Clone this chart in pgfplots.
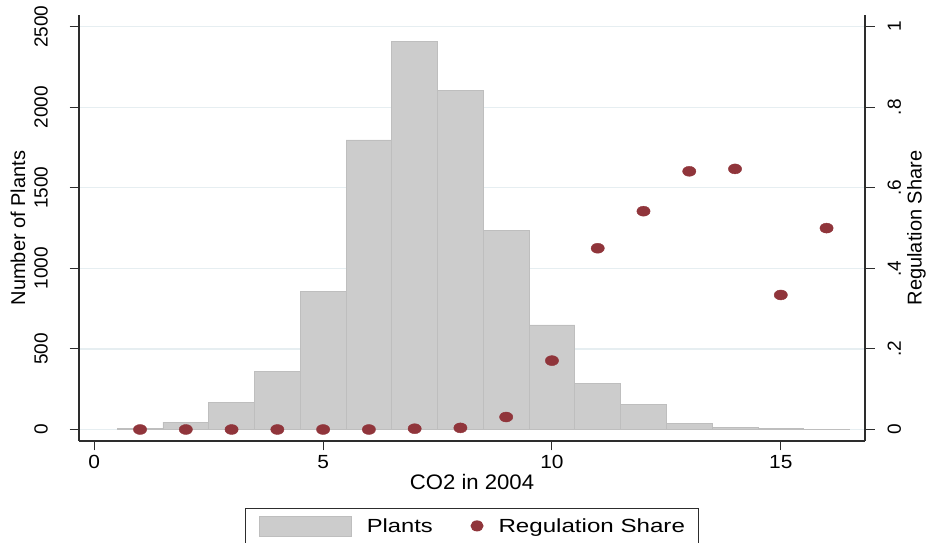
\documentclass[border=0pt]{standalone}
\usepackage{pgfplots}
\pgfplotsset{compat=1.18}
\usepackage{fontspec}
\setmainfont{Liberation Sans}
\usepackage{graphicx}

\definecolor{barfill}{RGB}{204,204,204}
\definecolor{baredge}{RGB}{190,190,190}
\definecolor{cranberry}{RGB}{144,53,59}
\definecolor{gridc}{RGB}{230,238,241}
\definecolor{axc}{RGB}{45,45,45}

\newcommand\fs[1]{\fontsize{#1}{#1}\selectfont}

\begin{document}
\begin{tikzpicture}
\pgfplotsset{
  base/.style={
    scale only axis, width=786pt, height=426pt,
    xmin=-0.334, xmax=16.84,
    tick align=outside, major tick length=9.5pt,
    every tick/.style={axc, line width=1pt},
    axis line style={axc, line width=1.2pt},
    /pgf/number format/assume math mode=true,
    /pgf/number format/1000 sep={},
    scaled y ticks=false,
  },
}
% left axis: histogram of plants
\begin{axis}[base, name=ax,
  ymin=-71.4, ymax=2572.6,
  axis x line*=bottom, axis y line*=left,
  xtick={0,5,10,15},
  ytick={0,500,1000,1500,2000,2500},
  ymajorgrids, grid style={gridc, line width=1.2pt},
  xticklabel style={anchor=north, inner sep=0pt, yshift=-5pt, font=\fs{19}},
  xticklabel={\scalebox{1.1}[1]{\pgfmathprintnumber{\tick}}},
  yticklabel style={rotate=90, anchor=base, inner sep=0pt, yshift=22pt, font=\fs{19}},
  xlabel={\scalebox{1.054}[1]{CO2 in 2004}},
  xlabel style={at={(axis description cs:0.5,-0.115)}, anchor=base, font=\fs{21}, inner sep=0pt},
  ylabel={Number of Plants},
  ylabel style={at={(axis description cs:-0.0687,0.5)}, anchor=base, font=\fs{20}, inner sep=0pt},
  legend columns=2,
  legend style={at={(axis description cs:0.5,-0.1573)}, anchor=north,
    draw=axc, line width=1pt, inner xsep=14pt, inner ysep=7pt, font=\fs{19},
    nodes={inner sep=0pt},
    /tikz/every odd column/.style={column sep=15pt},
    /tikz/every even column/.style={column sep=37.7pt}},
]
\addplot[ybar, bar width=1, fill=barfill, draw=baredge, line width=0.8pt,
  legend image code/.code={\draw[fill=barfill, draw=baredge, line width=0.8pt] (0pt,-10pt) rectangle (92pt,10pt);}]
  coordinates {
    (1,5) (2,45) (3,169) (4,363) (5,855) (6,1797) (7,2407) (8,2105)
    (9,1236) (10,649) (11,287) (12,158) (13,40) (14,15) (15,5) (16,3)
  };
\addlegendentry{\scalebox{1.25}[1]{Plants}}
\addlegendimage{legend image code/.code={\fill[cranberry] (6pt,0pt) ellipse (6pt and 5pt);}}
\addlegendentry{\scalebox{1.27}[1]{Regulation Share}}
\end{axis}

% right axis: regulation share
\begin{axis}[base,
  ymin=-0.02855, ymax=1.0291,
  axis x line=none, axis y line*=right,
  ytick={0,0.2,0.4,0.6,0.8,1},
  yticklabels={0,.2,.4,.6,.8,1},
  yticklabel style={rotate=90, anchor=north, inner sep=0pt, yshift=-13pt, font=\fs{19}},
  ylabel={Regulation Share},
  ylabel style={at={(axis description cs:1.0721,0.5)}, anchor=base, font=\fs{20}, inner sep=0pt},
]
\addplot[only marks, mark=*, mark size=5pt,
  mark options={xscale=1.33, fill=cranberry, draw=cranberry}]
  coordinates {
    (1,0) (2,0) (3,0) (4,0) (5,0) (6,0) (7,0.002) (8,0.004)
    (9,0.031) (10,0.171) (11,0.450) (12,0.542) (13,0.641) (14,0.647)
    (15,0.334) (16,0.500)
  };
\end{axis}
\pgfresetboundingbox
\useasboundingbox (-79pt,-102pt) rectangle (851pt,441pt);
\end{tikzpicture}
\end{document}
